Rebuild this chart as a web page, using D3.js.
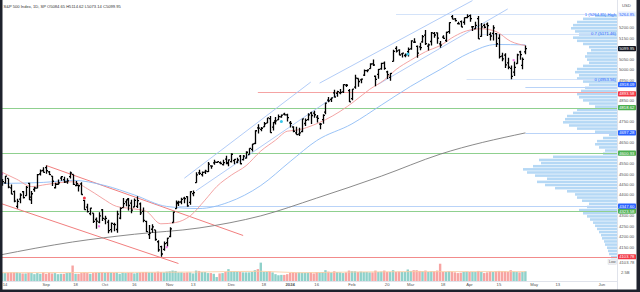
<!DOCTYPE html>
<html>
<head>
<meta charset="utf-8">
<script src="https://cdnjs.cloudflare.com/ajax/libs/d3/7.8.5/d3.min.js"></script>
<style>
  body { margin: 0; background: #fff; }
  svg { display: block; font-family: "Liberation Sans", Arial, sans-serif; }
</style>
</head>
<body>
<svg id="chart" width="640" height="292"></svg>
<script>
// daily bars, S&P 500
const dates = ["2023-08-10","2023-08-11","2023-08-14","2023-08-15","2023-08-16","2023-08-17","2023-08-18","2023-08-21","2023-08-22","2023-08-23","2023-08-24","2023-08-25","2023-08-28","2023-08-29","2023-08-30","2023-08-31",
"2023-09-01","2023-09-05","2023-09-06","2023-09-07","2023-09-08","2023-09-11","2023-09-12","2023-09-13","2023-09-14","2023-09-15","2023-09-18","2023-09-19","2023-09-20","2023-09-21","2023-09-22","2023-09-25","2023-09-26","2023-09-27","2023-09-28","2023-09-29",
"2023-10-02","2023-10-03","2023-10-04","2023-10-05","2023-10-06","2023-10-09","2023-10-10","2023-10-11","2023-10-12","2023-10-13","2023-10-16","2023-10-17","2023-10-18","2023-10-19","2023-10-20","2023-10-23","2023-10-24","2023-10-25","2023-10-26","2023-10-27","2023-10-30","2023-10-31",
"2023-11-01","2023-11-02","2023-11-03","2023-11-06","2023-11-07","2023-11-08","2023-11-09","2023-11-10","2023-11-13","2023-11-14","2023-11-15","2023-11-16","2023-11-17","2023-11-20","2023-11-21","2023-11-22","2023-11-24","2023-11-27","2023-11-28","2023-11-29","2023-11-30",
"2023-12-01","2023-12-04","2023-12-05","2023-12-06","2023-12-07","2023-12-08","2023-12-11","2023-12-12","2023-12-13","2023-12-14","2023-12-15","2023-12-18","2023-12-19","2023-12-20","2023-12-21","2023-12-22","2023-12-26","2023-12-27","2023-12-28","2023-12-29",
"2024-01-02","2024-01-03","2024-01-04","2024-01-05","2024-01-08","2024-01-09","2024-01-10","2024-01-11","2024-01-12","2024-01-16","2024-01-17","2024-01-18","2024-01-19","2024-01-22","2024-01-23","2024-01-24","2024-01-25","2024-01-26","2024-01-29","2024-01-30","2024-01-31",
"2024-02-01","2024-02-02","2024-02-05","2024-02-06","2024-02-07","2024-02-08","2024-02-09","2024-02-12","2024-02-13","2024-02-14","2024-02-15","2024-02-16","2024-02-20","2024-02-21","2024-02-22","2024-02-23","2024-02-26","2024-02-27","2024-02-28","2024-02-29",
"2024-03-01","2024-03-04","2024-03-05","2024-03-06","2024-03-07","2024-03-08","2024-03-11","2024-03-12","2024-03-13","2024-03-14","2024-03-15","2024-03-18","2024-03-19","2024-03-20","2024-03-21","2024-03-22","2024-03-25","2024-03-26","2024-03-27","2024-03-28",
"2024-04-01","2024-04-02","2024-04-03","2024-04-04","2024-04-05","2024-04-08","2024-04-09","2024-04-10","2024-04-11","2024-04-12","2024-04-15","2024-04-16","2024-04-17","2024-04-18","2024-04-19","2024-04-22","2024-04-23","2024-04-24","2024-04-25","2024-04-26"];

const open = [4487.16,4450.69,4458.13,4478.87,4433.79,4416.32,4344.88,4380.28,4415.33,4396.44,4455.16,4389.38,4426.03,4432.75,4500.34,4517.01,
4530.60,4510.06,4490.35,4434.55,4451.30,4480.98,4473.27,4462.65,4487.78,4497.98,4445.13,4445.41,4452.81,4374.36,4341.74,4310.62,4312.88,4282.63,4269.65,4328.18,
4284.52,4269.75,4233.83,4259.31,4234.79,4289.02,4339.75,4366.59,4380.94,4360.49,4342.37,4345.23,4357.35,4321.36,4273.85,4210.40,4235.79,4232.42,4175.99,4152.93,4139.39,4171.33,
4201.27,4268.26,4334.23,4364.27,4366.21,4384.37,4391.41,4364.15,4406.66,4458.97,4505.30,4497.08,4509.55,4511.70,4538.77,4553.04,4555.84,4554.86,4545.55,4571.84,4554.87,
4559.43,4564.37,4557.25,4586.23,4568.84,4576.20,4593.39,4618.30,4646.20,4721.04,4714.23,4725.58,4743.72,4764.73,4724.29,4753.92,4758.86,4773.45,4786.44,4782.88,
4745.20,4725.07,4697.42,4690.57,4703.70,4741.93,4759.94,4792.13,4791.18,4772.35,4739.13,4760.10,4796.28,4853.42,4856.80,4888.56,4886.66,4888.91,4892.95,4925.89,4899.19,
4861.11,4916.06,4957.19,4950.16,4973.05,4995.16,5004.17,5026.83,4967.94,4976.44,5003.14,5031.13,4989.32,4963.03,5038.83,5100.92,5093.00,5074.60,5067.20,5085.36,
5098.51,5130.99,5110.52,5108.03,5132.38,5164.46,5111.96,5134.30,5173.49,5175.14,5123.31,5154.77,5139.09,5181.69,5253.43,5242.48,5219.52,5228.85,5226.31,5248.03,
5257.97,5204.29,5194.37,5244.05,5158.95,5211.37,5217.03,5167.88,5172.95,5171.51,5149.67,5064.59,5068.97,5031.52,5005.44,4987.33,5028.85,5084.86,5019.88,5084.65];

const high = [4527.37,4476.23,4490.33,4478.87,4449.95,4421.17,4381.82,4407.55,4418.59,4443.18,4458.30,4418.46,4439.56,4500.14,4521.65,4532.26,
4541.25,4514.29,4490.35,4457.81,4473.53,4490.77,4487.11,4479.39,4511.99,4497.98,4466.36,4449.85,4461.03,4375.70,4357.40,4338.51,4313.01,4292.07,4317.27,4333.15,
4300.58,4281.15,4268.50,4267.13,4324.10,4341.73,4385.46,4378.64,4385.85,4377.10,4383.33,4393.57,4364.20,4339.54,4276.56,4255.84,4259.38,4232.42,4183.60,4156.70,4177.47,4195.55,
4245.64,4319.72,4373.62,4372.21,4386.26,4391.20,4393.40,4418.03,4421.76,4508.67,4521.17,4511.99,4520.12,4557.11,4542.14,4568.43,4560.31,4560.52,4568.14,4587.64,4569.89,
4599.39,4572.37,4578.56,4590.74,4590.92,4609.23,4623.71,4643.93,4709.69,4738.57,4725.53,4749.52,4768.69,4778.01,4748.71,4772.94,4784.72,4785.39,4793.30,4788.43,
4754.33,4729.29,4726.78,4721.49,4764.54,4765.47,4790.80,4798.50,4802.40,4782.34,4744.23,4785.79,4842.07,4868.41,4866.48,4903.68,4898.15,4906.69,4929.31,4931.09,4906.75,
4906.97,4975.29,4957.19,4957.77,4999.89,5000.40,5030.06,5048.39,4971.30,5002.52,5032.72,5038.70,4993.71,4983.21,5094.39,5111.06,5097.66,5080.69,5077.37,5104.99,
5140.33,5149.67,5114.54,5127.97,5165.62,5189.26,5124.66,5179.87,5179.14,5176.85,5136.86,5164.57,5180.31,5226.19,5261.10,5246.09,5229.09,5235.16,5249.26,5264.85,
5263.95,5208.34,5228.75,5256.59,5222.18,5219.57,5224.81,5178.43,5211.78,5175.03,5168.43,5079.84,5077.96,5056.66,5019.02,5038.84,5076.12,5089.48,5057.75,5114.62];

const low = [4457.92,4443.98,4453.44,4432.19,4403.55,4364.83,4335.31,4360.30,4382.77,4396.44,4375.55,4356.29,4414.98,4431.68,4493.59,4507.39,
4501.35,4496.01,4442.38,4430.46,4448.38,4467.89,4456.83,4453.52,4478.69,4447.21,4442.11,4416.61,4401.38,4329.17,4316.49,4302.70,4265.98,4238.63,4264.38,4274.86,
4260.21,4216.45,4220.48,4225.91,4219.55,4283.79,4339.64,4345.34,4325.43,4311.97,4342.37,4337.54,4303.84,4269.69,4223.03,4189.22,4219.43,4181.42,4127.90,4103.78,4132.94,4153.12,
4197.74,4268.26,4334.23,4347.53,4355.41,4359.76,4343.94,4353.34,4393.82,4458.97,4495.31,4487.83,4499.66,4510.36,4525.51,4545.05,4552.80,4546.32,4540.51,4547.15,4537.24,
4554.71,4546.72,4551.68,4546.50,4565.22,4574.06,4593.39,4608.09,4643.23,4694.34,4704.69,4725.58,4743.72,4697.82,4708.35,4736.77,4758.45,4768.90,4780.98,4751.99,
4722.67,4699.71,4687.53,4682.11,4699.82,4730.35,4756.20,4739.58,4768.98,4747.12,4714.82,4740.57,4785.87,4844.05,4844.37,4865.94,4869.34,4881.47,4887.40,4916.27,4845.15,
4853.52,4907.99,4918.09,4934.88,4969.05,4987.09,5004.17,5016.83,4920.31,4956.45,4999.44,4999.52,4955.02,4946.00,5038.83,5081.46,5068.91,5057.29,5058.35,5061.89,
5094.16,5127.18,5056.82,5092.22,5128.21,5117.50,5091.14,5114.48,5151.88,5123.30,5104.35,5147.06,5131.59,5171.55,5240.66,5229.87,5216.09,5203.42,5213.92,5245.82,
5229.20,5184.05,5194.37,5146.06,5157.21,5197.35,5160.78,5138.70,5138.77,5107.94,5052.47,5039.83,5007.25,5001.89,4953.56,4969.40,5027.96,5047.02,5001.01,5073.14];

const close = [4468.83,4464.05,4489.72,4437.86,4404.33,4370.36,4369.71,4399.77,4387.55,4436.01,4376.31,4405.71,4433.31,4497.63,4514.87,4507.66,
4515.77,4496.83,4465.48,4451.14,4457.49,4487.46,4461.90,4467.44,4505.10,4450.32,4453.53,4443.95,4402.20,4330.00,4320.06,4337.44,4273.53,4274.51,4299.70,4288.05,
4288.39,4229.45,4263.75,4258.19,4308.50,4335.66,4358.24,4376.95,4349.61,4327.78,4373.63,4373.20,4314.60,4278.00,4224.16,4217.04,4247.68,4186.77,4137.23,4117.37,4166.82,4193.80,
4237.86,4317.78,4358.34,4365.98,4378.38,4382.78,4347.35,4415.24,4411.55,4495.70,4502.88,4508.24,4514.02,4547.38,4538.19,4556.62,4559.34,4550.43,4554.89,4550.58,4567.80,
4594.63,4569.78,4567.18,4549.34,4585.59,4604.37,4622.44,4643.70,4707.09,4719.55,4719.19,4740.56,4768.37,4698.35,4746.75,4754.63,4774.75,4781.58,4783.35,4769.83,
4742.83,4704.81,4688.68,4697.24,4763.54,4756.50,4783.45,4780.24,4783.83,4765.98,4739.21,4780.94,4839.81,4850.43,4864.60,4868.55,4894.16,4890.97,4927.93,4924.97,4845.65,
4906.19,4958.61,4942.81,4954.23,4995.06,4997.91,5026.61,5021.84,4953.17,5000.62,5029.73,5005.57,4975.51,4981.80,5087.03,5088.80,5069.53,5078.18,5069.76,5096.27,
5137.08,5130.95,5078.65,5104.76,5157.36,5123.69,5117.94,5175.27,5165.31,5150.48,5117.09,5149.42,5178.51,5224.62,5241.53,5234.18,5218.19,5203.58,5248.49,5254.35,
5243.77,5205.81,5211.49,5147.21,5204.34,5202.39,5209.91,5160.64,5199.06,5123.41,5061.82,5051.41,5022.21,5011.12,4967.23,5010.60,5070.55,5071.63,5048.42,5099.95];

// volume, billions
const volume = [2.5,2.2,2.2,2.3,2.4,2.4,2.4,2.2,2.1,2.1,2.3,2.2,1.9,2.2,2.0,2.4,
2.0,2.3,2.1,2.2,1.9,2.0,2.0,2.2,2.3,4.3,2.0,2.0,2.2,2.4,2.2,2.0,2.2,2.4,2.4,2.5,
2.4,2.5,2.4,2.3,2.4,2.0,2.3,2.2,2.3,2.3,2.1,2.3,2.4,2.5,2.5,2.4,2.4,2.4,2.6,2.5,2.4,2.6,
2.7,2.9,2.8,2.4,2.4,2.3,2.4,2.4,2.1,2.9,2.8,2.5,2.5,2.2,2.2,2.0,1.1,2.1,2.2,2.5,3.3,
2.7,2.7,2.6,2.5,2.4,2.4,2.4,2.5,3.0,3.3,5.1,2.5,2.5,2.7,2.4,1.9,1.6,1.7,1.7,1.9,
2.3,2.4,2.3,2.4,2.3,2.3,2.3,2.4,2.1,2.5,2.4,2.5,3.0,2.6,2.4,2.7,2.5,2.4,2.2,2.4,2.9,
2.7,2.7,2.5,2.6,2.5,2.5,2.4,2.4,2.9,2.5,2.6,2.9,2.5,2.5,3.0,2.5,2.6,2.5,2.5,3.2,
2.8,3.0,3.0,2.8,2.7,2.9,2.5,2.7,2.7,2.9,4.8,2.5,2.5,2.7,2.6,2.4,2.2,2.3,2.5,2.6,
2.5,2.5,2.5,2.8,2.5,2.2,2.4,2.6,2.5,2.7,2.8,2.7,2.7,2.5,3.0,2.6,2.5,2.4,2.5,2.7];

// moving averages (sparse)
const ma20Dates = ["2023-08-10","2023-08-18","2023-08-25","2023-09-01","2023-09-08","2023-09-15","2023-09-22","2023-09-29","2023-10-06","2023-10-13","2023-10-20","2023-10-27","2023-11-03","2023-11-10","2023-11-17","2023-11-24","2023-12-01","2023-12-08","2023-12-15","2023-12-22","2023-12-29","2024-01-05","2024-01-12","2024-01-19","2024-01-26","2024-02-02","2024-02-09","2024-02-16","2024-02-23","2024-03-01","2024-03-08","2024-03-15","2024-03-22","2024-03-28","2024-04-05","2024-04-12","2024-04-19","2024-04-26"];
const ma20 = [4515,4475,4440,4450,4458,4463,4430,4385,4345,4335,4322,4262,4268,4300,4375,4440,4495,4540,4610,4662,4705,4712,4735,4760,4800,4850,4905,4950,5000,5045,5085,5115,5160,5185,5195,5182,5135,5115];
const ma50Dates = ["2023-08-10","2023-08-31","2023-09-15","2023-10-02","2023-10-16","2023-10-31","2023-11-15","2023-11-30","2023-12-15","2024-01-02","2024-01-16","2024-02-01","2024-02-15","2024-03-01","2024-03-15","2024-04-01","2024-04-12","2024-04-26"];
const ma50 = [4455,4460,4470,4445,4400,4345,4335,4365,4445,4560,4660,4740,4830,4920,5000,5080,5120,5118];
const ma200Dates = ["2023-08-10","2023-09-15","2023-10-16","2023-11-15","2023-12-15","2024-01-16","2024-02-15","2024-03-15","2024-04-26"];
const ma200 = [4112,4175,4212,4242,4300,4385,4490,4595,4697];

// volume MA (sparse)
const vmaDates = ["2023-08-10","2023-09-15","2023-10-16","2023-11-15","2023-12-15","2024-01-05","2024-02-01","2024-03-01","2024-04-01","2024-04-26"];
const vma = [2.3,2.35,2.4,2.5,2.7,2.3,2.5,2.6,2.6,2.6];

// price axis ticks
const priceTicks = [5200,5150,5050,5000,4950,4850,4750,4650,4550,4500,4450,4400,4300,4250,4200,4150];

// time axis
const timeTickDates = ["2023-08-14","2023-09-01","2023-09-18","2023-10-02","2023-10-16","2023-11-01","2023-11-13","2023-12-01","2023-12-18","2024-01-02","2024-01-16","2024-02-01","2024-02-20","2024-03-01","2024-03-18","2024-04-01","2024-04-15","2024-05-01","2024-05-13","2024-06-03"];
const timeTickLabels = ["14","Sep","18","Oct","16","Nov","13","Dec","18","2024","16","Feb","20","Mar","18","Apr","15","May","13","Jun"];

// horizontal levels: price, colour
const levelPrices = [4103.78, 4323, 4347, 4600, 4697, 4818, 4893, 4918];
const levelColors = ["#f28b8b","#8fd08f","#b9d3f8","#8fd08f","#b9d3f8","#8fd08f","#f5a3a3","#b9d3f8"];
const levelStarts = ["2023-08-10","2023-08-10","2023-11-06","2023-08-10","2024-04-26","2023-08-10","2023-12-14","2024-04-26"];
const levelLabels = ["4103.78","4323.58","4347.60","4600.93","4697.28","4818.62","4893.58","4918.09"];
const levelLabelBg = ["#f23645","#4caf50","#2962ff","#4caf50","#2962ff","#4caf50","#f23645","#2962ff"];

// fib levels
const fibPrices = [5264.85, 5171.46, 4953.56];
const fibLabels = ["1 (5264.85) High", "0.7 (5171.46)", "0 (4953.56)"];
const fibStarts = ["2024-02-23", "2024-04-04", "2024-03-28"];

// trend channels [date, price] pairs
const redChannels = [
  [["2023-09-01", 4541], ["2023-12-07", 4206]],
  [["2023-08-10", 4362], ["2023-11-06", 4072]]
];
const blueChannels = [
  [["2023-11-08", 4480], ["2024-01-11", 4940]],
  [["2023-11-14", 4420], ["2024-01-25", 4880]],
  [["2024-01-17", 4935], ["2024-04-02", 5330]],
  [["2024-02-14", 4930], ["2024-04-18", 5290]]
];

// signal dots: date, price
const dotDates = ["2023-09-21", "2023-12-27", "2024-02-29"];
const dotPrices = [4385, 4752, 5075];
const dotColors = ["#f23645", "#38c6e8", "#38c6e8"];
const pinkDates = ["2023-08-11", "2023-09-28", "2023-10-31", "2024-04-22"];
const pinkPrices = [4500, 4250, 4150, 5045];

// volume profile: bin floor prices and relative volume
const profileStep = 15;
const profileFloor = d3.range(4095, 5265, profileStep);
const profileVol = [6,8,9,10,12,13,15,16,18,20,22,24,27,30,34,38,30,28,35,40,42,50,62,72,80,70,82,90,94,84,76,78,64,14,12,18,22,20,14,8,22,40,48,54,52,50,44,40,22,28,34,38,40,36,32,28,34,40,38,42,40,34,28,30,32,30,26,28,34,40,44,38,42,46,44,40,34,22];

// ---------------------------------------------------------------
const W = 640, H = 292;
const plotRight = 617;
const svg = d3.select("#chart");

const idxOf = new Map(dates.map((d, i) => [d, i]));
// bar index, counting weekdays past the last bar for future dates
function barIndex(ds) {
  if (idxOf.has(ds)) return idxOf.get(ds);
  const last = new Date(dates[dates.length - 1] + "T00:00:00Z");
  const t = new Date(ds + "T00:00:00Z");
  let n = dates.length - 1;
  for (let d = new Date(last); d < t; ) {
    d.setUTCDate(d.getUTCDate() + 1);
    const wd = d.getUTCDay();
    if (wd !== 0 && wd !== 6) n++;
  }
  return n;
}

const x = d3.scaleLinear().domain([0.3, 210.16]).range([0, plotRight]);
const y = d3.scaleLinear().domain([4100, 5300]).range([257.65, 6.85]);
const yv = d3.scaleLinear().domain([0, 5]).range([281, 263]);
const wp = d3.scaleLinear().domain([0, 100]).range([0, 100]);

svg.append("rect").attr("width", W).attr("height", H).attr("fill", "#fff");

svg.append("defs").append("clipPath").attr("id", "plot")
  .append("rect").attr("x", 0).attr("y", 0).attr("width", plotRight).attr("height", 281);

const plot = svg.append("g").attr("clip-path", "url(#plot)");

// volume profile
plot.append("g").selectAll("rect").data(profileFloor).join("rect")
  .attr("x", (p, i) => plotRight - wp(profileVol[i]))
  .attr("y", p => y(p + profileStep) + 0.3)
  .attr("width", (p, i) => wp(profileVol[i]))
  .attr("height", p => y(p) - y(p + profileStep) - 0.6)
  .attr("fill", "#b5d8f5");

// horizontal levels
levelPrices.forEach((p, i) => {
  plot.append("line")
    .attr("x1", x(barIndex(levelStarts[i]))).attr("x2", plotRight)
    .attr("y1", Math.round(y(p)) + 0.5).attr("y2", Math.round(y(p)) + 0.5)
    .attr("stroke", levelColors[i]).attr("stroke-width", 1);
});

// fib lines
fibPrices.forEach((p, i) => {
  plot.append("line")
    .attr("x1", x(barIndex(fibStarts[i]))).attr("x2", plotRight - 20)
    .attr("y1", Math.round(y(p)) + 0.5).attr("y2", Math.round(y(p)) + 0.5)
    .attr("stroke", "#c9dcf7").attr("stroke-width", 0.8);
  plot.append("text")
    .attr("x", plotRight - 1).attr("y", y(p) + 1.4)
    .attr("text-anchor", "end").attr("font-size", 4.2).attr("fill", "#2962ff")
    .text(fibLabels[i]);
});

// channels
const seg = d3.line().x(d => x(barIndex(d[0]))).y(d => y(d[1]));
plot.append("g").selectAll("path").data(redChannels).join("path")
  .attr("d", seg).attr("fill", "none").attr("stroke", "#ef6f6f").attr("stroke-width", 0.9);
plot.append("g").selectAll("path").data(blueChannels).join("path")
  .attr("d", seg).attr("fill", "none").attr("stroke", "#a9c6f6").attr("stroke-width", 0.9);

// moving averages
const maLine = d3.line().x(d => x(barIndex(d[0]))).y(d => y(d[1])).curve(d3.curveMonotoneX);
const zipMA = (ds, vs) => ds.map((d, i) => [d, vs[i]]);
plot.append("path").attr("d", maLine(zipMA(ma200Dates, ma200)))
  .attr("fill", "none").attr("stroke", "#7d7d7d").attr("stroke-width", 0.9);
plot.append("path").attr("d", maLine(zipMA(ma50Dates, ma50)))
  .attr("fill", "none").attr("stroke", "#8fbcf5").attr("stroke-width", 0.9);
plot.append("path").attr("d", maLine(zipMA(ma20Dates, ma20)))
  .attr("fill", "none").attr("stroke", "#f29a9a").attr("stroke-width", 0.9);

// volume bars
plot.append("g").selectAll("rect").data(dates).join("rect")
  .attr("x", (d, i) => x(i) - 1.2)
  .attr("y", (d, i) => yv(volume[i]))
  .attr("width", 2.4)
  .attr("height", (d, i) => yv(0) - yv(volume[i]))
  .attr("fill", (d, i) => close[i] >= open[i] ? "#8fd1ca" : "#f7a4a2");
plot.append("path")
  .attr("d", d3.line().x(d => x(barIndex(d[0]))).y(d => yv(d[1])).curve(d3.curveMonotoneX)(zipMA(vmaDates, vma)))
  .attr("fill", "none").attr("stroke", "#fbcfa6").attr("stroke-width", 0.9);

// OHLC bars
plot.append("g").selectAll("path").data(dates).join("path")
  .attr("d", (d, i) => {
    const cx = Math.round(x(i)) + 0.5;
    return `M${cx},${y(high[i])}V${y(low[i])}M${cx - 1.5},${y(open[i])}H${cx}M${cx},${y(close[i])}H${cx + 1.5}`;
  })
  .attr("stroke", "#000").attr("stroke-width", 1.3).attr("fill", "none");

// signal markers
plot.append("g").selectAll("circle").data(dotDates).join("circle")
  .attr("cx", d => x(barIndex(d))).attr("cy", (d, i) => y(dotPrices[i]))
  .attr("r", 1.5).attr("fill", (d, i) => dotColors[i]);
plot.append("g").selectAll("rect").data(pinkDates).join("rect")
  .attr("x", d => x(barIndex(d)) - 1).attr("y", (d, i) => y(pinkPrices[i]) - 1)
  .attr("width", 2).attr("height", 2).attr("fill", "#f27be6");

// right price axis
const axisG = svg.append("g");
axisG.append("line").attr("x1", plotRight + 0.5).attr("x2", plotRight + 0.5).attr("y1", 0).attr("y2", 290)
  .attr("stroke", "#e0e3eb");
axisG.selectAll("text.tick").data(priceTicks).join("text")
  .attr("class", "tick")
  .attr("x", plotRight + 2).attr("y", p => y(p) + 1.5)
  .attr("font-size", 4.2).attr("fill", "#555")
  .text(p => d3.format(".2f")(p));
axisG.append("text").attr("x", plotRight + 5).attr("y", 7).attr("font-size", 4.2).attr("fill", "#555").text("USD");

function axisTag(yy, txt, bg, fg) {
  axisG.append("rect").attr("x", plotRight + 1).attr("y", yy - 2.6).attr("width", 18).attr("height", 5.2)
    .attr("rx", 0.8).attr("fill", bg);
  axisG.append("text").attr("x", plotRight + 2.2).attr("y", yy + 1.5).attr("font-size", 4.2).attr("fill", fg).text(txt);
}
axisTag(y(5264.85), "5264.85", "#e7f0fd", "#2962ff");
axisTag(y(close[close.length - 1]), d3.format(".2f")(close[close.length - 1]), "#131722", "#fff");
const tagShift = [0, 0, 0, 0, 0, 0, 2, -2];
levelPrices.forEach((p, i) => axisTag(y(p) + tagShift[i], levelLabels[i], levelLabelBg[i], "#fff"));
axisTag(y(4103.78) + 5.2, "4103.78", "#fff", "#555");
axisG.append("rect").attr("x", plotRight - 9).attr("y", y(4103.78) + 2.8).attr("width", 8.5).attr("height", 4.6)
  .attr("fill", "#eef0f3").attr("stroke", "#cfd3dc").attr("stroke-width", 0.4);
axisG.append("text").attr("x", plotRight - 8).attr("y", y(4103.78) + 6.2).attr("font-size", 3.6).attr("fill", "#555").text("Low");
axisG.append("text").attr("x", plotRight + 4).attr("y", yv(2.5) + 1.5).attr("font-size", 4.2).attr("fill", "#555").text("2.5B");

// time axis
svg.append("line").attr("x1", 0).attr("x2", plotRight).attr("y1", 281.5).attr("y2", 281.5).attr("stroke", "#e0e3eb");
svg.append("g").selectAll("text").data(timeTickDates).join("text")
  .attr("x", d => x(barIndex(d)))
  .attr("y", 286.2)
  .attr("text-anchor", "middle").attr("font-size", 4.2).attr("fill", "#555")
  .attr("font-weight", (d, i) => timeTickLabels[i] === "2024" ? "bold" : null)
  .text((d, i) => timeTickLabels[i]);

// title
svg.append("text").attr("x", 3.5).attr("y", 7.5).attr("font-size", 4.1).attr("fill", "#333")
  .text("S&P 500 Index, 1D, SP  O5084.65  H5114.62  L5073.14  C5099.95");

// frame
svg.append("rect").attr("x", 0).attr("y", 0).attr("width", 2.5).attr("height", H).attr("fill", "#1e222d");
svg.append("rect").attr("x", W - 3.5).attr("y", 0).attr("width", 3.5).attr("height", H).attr("fill", "#1e222d");
svg.append("rect").attr("x", 0).attr("y", H - 2.5).attr("width", W).attr("height", 2.5).attr("fill", "#1e222d");
</script>
</body>
</html>
